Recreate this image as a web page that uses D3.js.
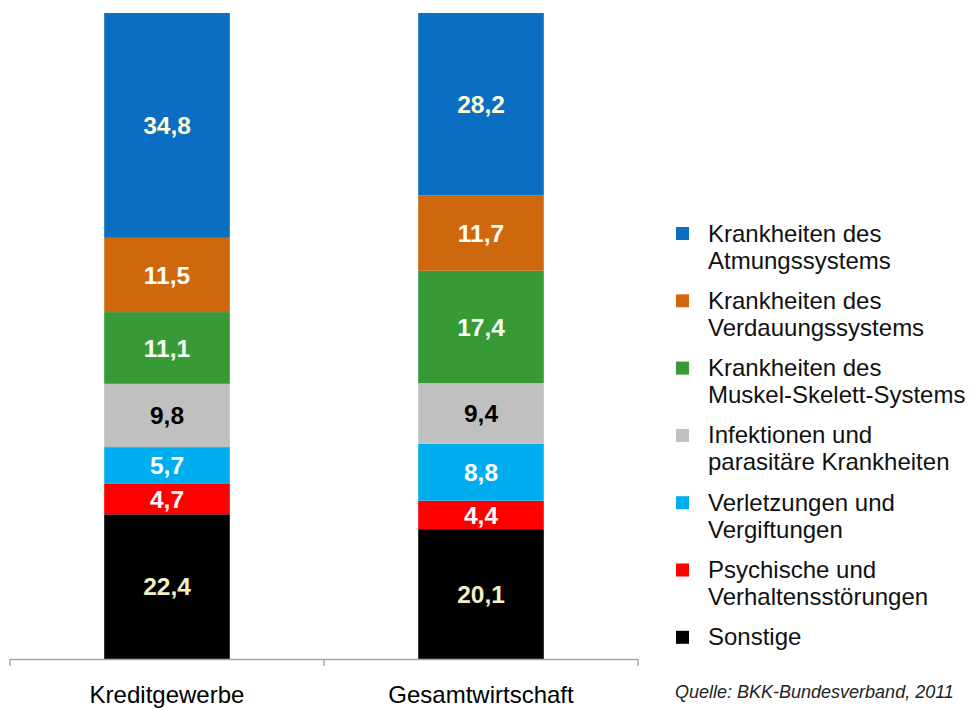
<!DOCTYPE html>
<html>
<head>
<meta charset="utf-8">
<script src="https://cdn.jsdelivr.net/npm/d3@7"></script>
<style>
	body { margin: 0; background: #fff; }
	svg { display: block; font-family: "Liberation Sans", Arial, sans-serif; }
</style>
</head>
<body>
<div id="chart"></div>
<script>
// data (percent shares, first series on top of the stack)
var categories = ["Kreditgewerbe", "Gesamtwirtschaft"];
var seriesNames = [
	["Krankheiten des", "Atmungssystems"],
	["Krankheiten des", "Verdauungssystems"],
	["Krankheiten des", "Muskel-Skelett-Systems"],
	["Infektionen und", "parasitäre Krankheiten"],
	["Verletzungen und", "Vergiftungen"],
	["Psychische und", "Verhaltensstörungen"],
	["Sonstige"]
];
var kreditValues = [34.8, 11.5, 11.1, 9.8, 5.7, 4.7, 22.4];
var gesamtValues = [28.2, 11.7, 17.4, 9.4, 8.8, 4.4, 20.1];
var colors = ["#0a6fc2", "#cf670c", "#379a37", "#c0c0c0", "#00aeef", "#ff0000", "#000000"];
var labelColors = ["#fffbd8", "#ffffff", "#f4fff4", "#000000", "#ffffff", "#ffffff", "#f4f0c6"];
var source = "Quelle: BKK-Bundesverband, 2011";

var width = 972, height = 709;

var svg = d3.select("#chart").append("svg")
	.attr("width", width)
	.attr("height", height);

var x = d3.scaleBand().domain(categories).range([10, 638]).padding(0);
var y = d3.scaleLinear().domain([0, 100]).range([659, 13]);
var barW = x.bandwidth() * 0.4;

var allValues = [kreditValues, gesamtValues];

// build stacked segments, first series on top
var segs = [];
categories.forEach(function (c, ci) {
	var vals = allValues[ci];
	var base = 0;
	for (var i = vals.length - 1; i >= 0; i--) {
		segs.push({ cat: c, idx: i, y0: base, y1: base + vals[i], v: vals[i] });
		base += vals[i];
	}
});

var g = svg.append("g");

g.selectAll("rect.seg")
	.data(segs)
	.enter()
	.append("rect")
	.attr("class", "seg")
	.attr("x", function (d) { return x(d.cat) + (x.bandwidth() - barW) / 2; })
	.attr("y", function (d) { return y(d.y1); })
	.attr("width", barW)
	.attr("height", function (d) { return y(d.y0) - y(d.y1); })
	.attr("fill", function (d) { return colors[d.idx]; });

g.selectAll("text.val")
	.data(segs)
	.enter()
	.append("text")
	.attr("class", "val")
	.attr("x", function (d) { return x(d.cat) + x.bandwidth() / 2; })
	.attr("y", function (d) { return (y(d.y0) + y(d.y1)) / 2; })
	.attr("dy", "0.36em")
	.attr("text-anchor", "middle")
	.style("font-size", "24.5px")
	.style("font-weight", "bold")
	.attr("fill", function (d) { return labelColors[d.idx]; })
	.text(function (d) { return String(d.v.toFixed(1)).replace(".", ","); });

// category axis: line with ticks at band edges
var r = x.range();
var tickX = categories.map(function (c) { return x(c); }).concat([r[1]]);
var axis = svg.append("g");
axis.append("line")
	.attr("x1", r[0]).attr("x2", r[1])
	.attr("y1", y(0) + 0.5).attr("y2", y(0) + 0.5)
	.attr("stroke", "#a6a6a6").attr("stroke-width", 1.5);
axis.selectAll("line.tick")
	.data(tickX)
	.enter()
	.append("line")
	.attr("class", "tick")
	.attr("x1", function (d) { return d; }).attr("x2", function (d) { return d; })
	.attr("y1", y(0)).attr("y2", y(0) + 7)
	.attr("stroke", "#a6a6a6").attr("stroke-width", 1.5);
axis.selectAll("text")
	.data(categories)
	.enter()
	.append("text")
	.attr("x", function (c) { return x(c) + x.bandwidth() / 2; })
	.attr("y", 703)
	.attr("text-anchor", "middle")
	.style("font-size", "24px")
	.attr("fill", "#000")
	.text(function (c) { return c; });

// legend
var legend = svg.append("g").attr("transform", "translate(676,0)");
var item = legend.selectAll("g")
	.data(seriesNames)
	.enter()
	.append("g")
	.attr("transform", function (d, i) { return "translate(0," + (241.5 + i * 67.3) + ")"; });
item.append("rect")
	.attr("x", 0).attr("y", -14.5)
	.attr("width", 13).attr("height", 13)
	.attr("fill", function (d, i) { return colors[i]; });
item.append("text")
	.attr("x", 32)
	.style("font-size", "24px")
	.attr("fill", "#111")
	.selectAll("tspan")
	.data(function (d) { return d; })
	.enter()
	.append("tspan")
	.attr("x", 32)
	.attr("y", function (d, i) { return i * 27; })
	.text(function (d) { return d; });

svg.append("text")
	.attr("x", 675)
	.attr("y", 698)
	.style("font-size", "18px")
	.style("font-style", "italic")
	.attr("fill", "#222")
	.text(source);
</script>
</body>
</html>
